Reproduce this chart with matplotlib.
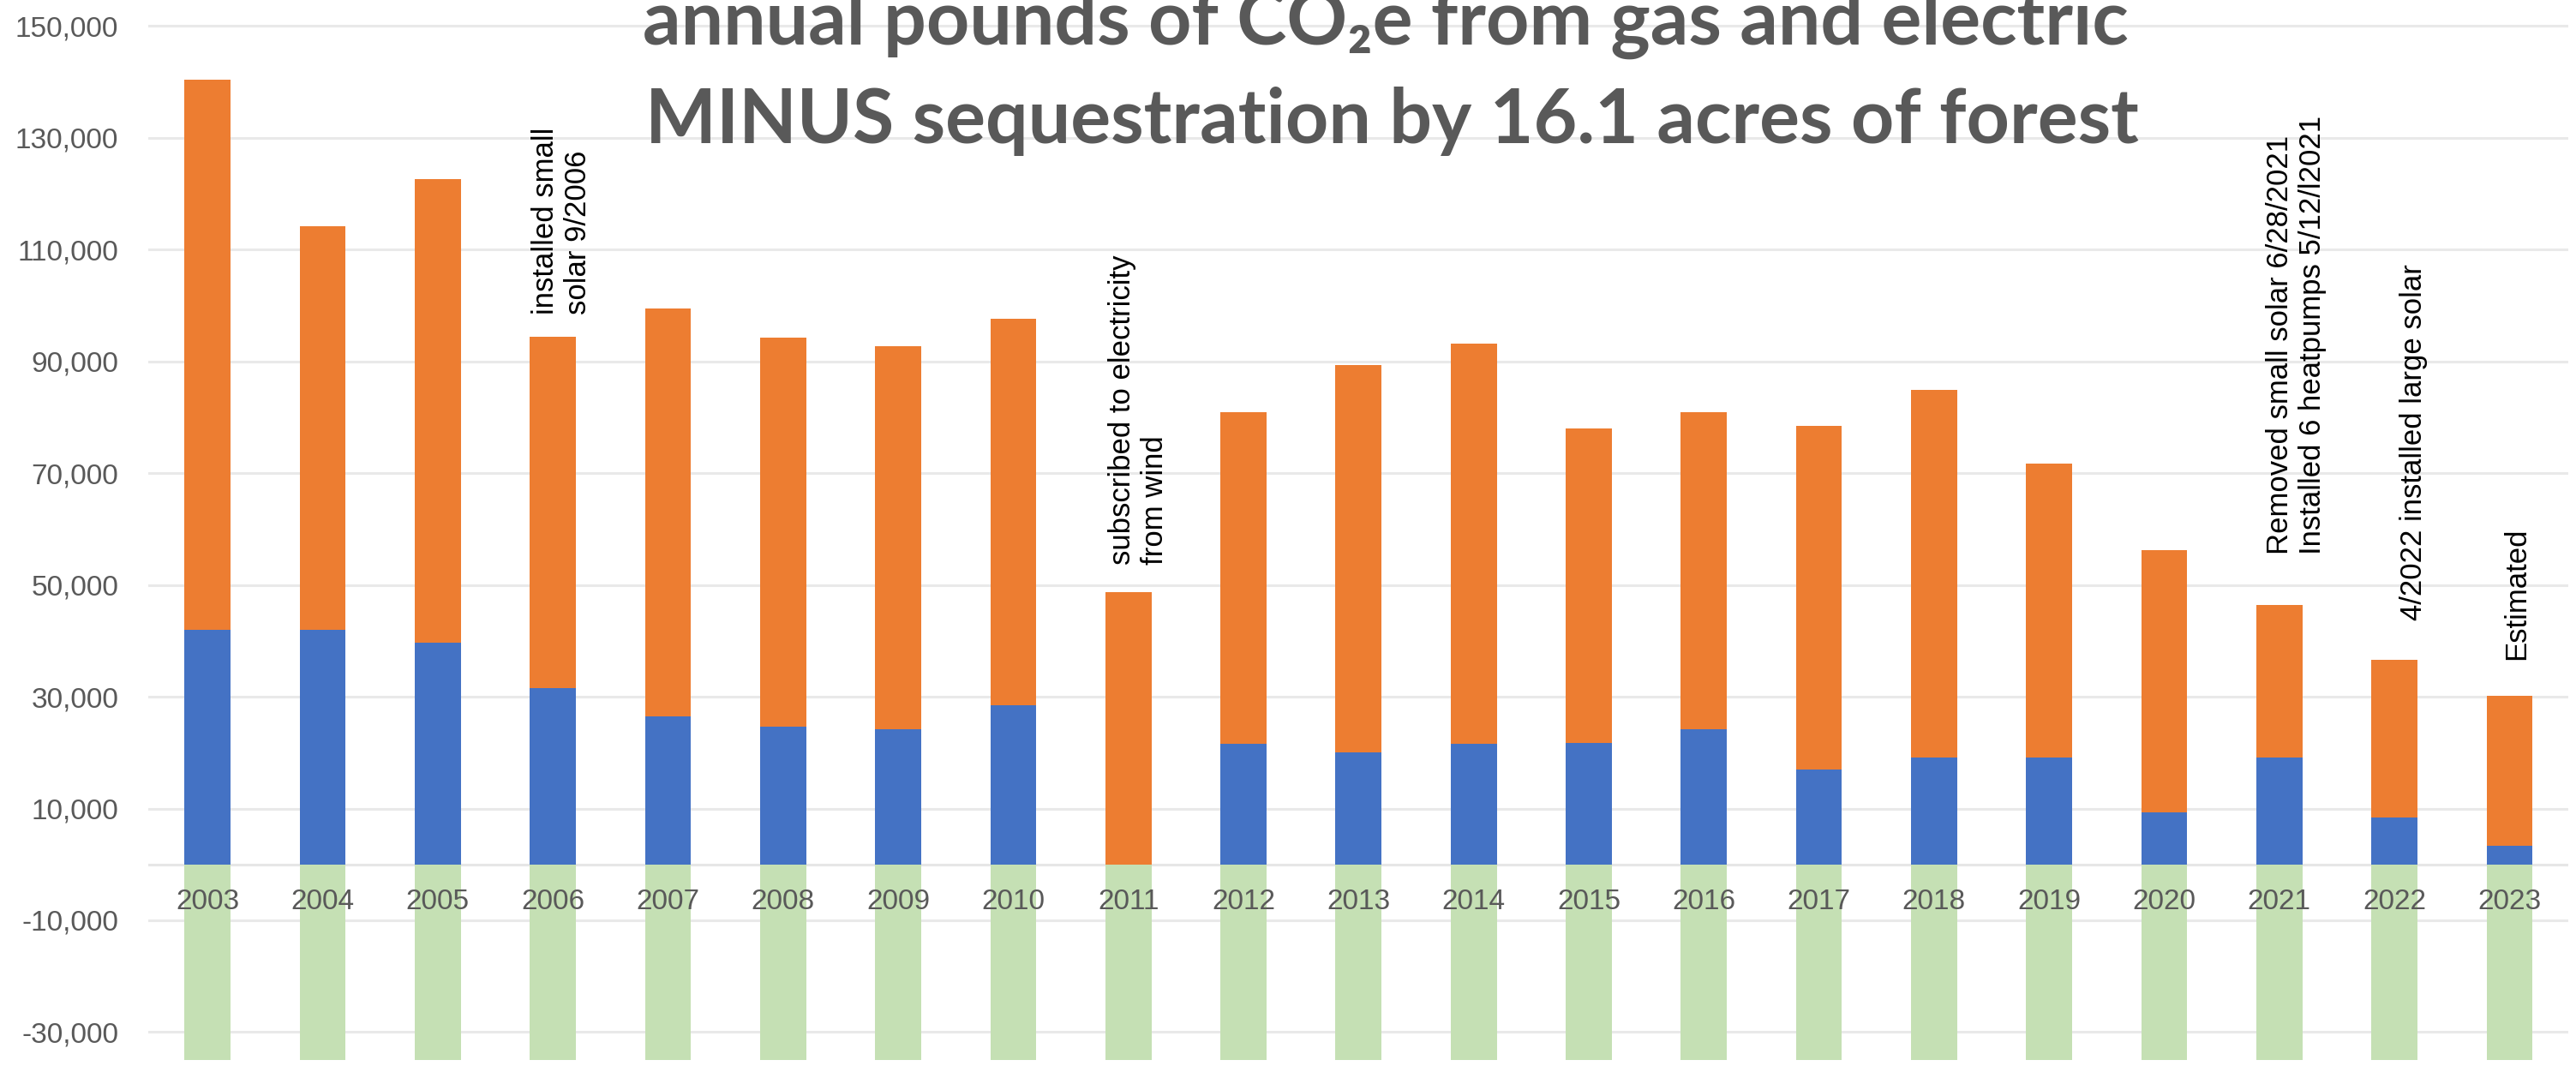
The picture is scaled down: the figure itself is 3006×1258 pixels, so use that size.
import matplotlib.pyplot as plt
from matplotlib.ticker import FuncFormatter

years = [2003, 2004, 2005, 2006, 2007, 2008, 2009, 2010, 2011, 2012, 2013,
         2014, 2015, 2016, 2017, 2018, 2019, 2020, 2021, 2022, 2023]
electric = [42000, 42000, 39700, 31500, 26500, 24700, 24100, 28500, 0, 21500, 20000,
            21500, 21800, 24100, 17000, 19100, 19100, 9300, 19100, 8400, 3400]
gas = [98300, 72200, 82900, 62900, 73000, 69500, 68600, 69100, 48700, 59400, 69300,
       71700, 56200, 56800, 61500, 65700, 52600, 46900, 27300, 28200, 26800]
forest = [-35000, -35000, -35000, -35000, -35000, -35000, -35000, -35000, -35000, -35000, -35000,
          -35000, -35000, -35000, -35000, -35000, -35000, -35000, -35000, -35000, -35000]
y_ticks = [-30000, -10000, 10000, 30000, 50000, 70000, 90000, 110000, 130000, 150000]

note_years = [2006, 2011, 2021, 2022, 2023]
note_texts = ["installed small\nsolar 9/2006",
              "subscribed to electricity\nfrom wind",
              "Removed small solar 6/28/2021\nInstalled 6 heatpumps 5/12/l2021",
              "4/2022 installed large solar",
              "Estimated"]
# pixel offsets (dx, gap above bar) for each note
note_offsets = [(10, 26), (12, 32), (20, 59), (22, 46), (8, 42)]

plt.rcParams['font.family'] = ['Liberation Sans', 'DejaVu Sans']

fig = plt.figure(figsize=(30.06, 12.58), dpi=100)
ax = fig.add_axes([173 / 3006, 0, 2824 / 3006, 1])

x = list(range(len(years)))
w = 0.40
ax.bar(x, electric, w, color='#4472C4', zorder=1)
ax.bar(x, gas, w, bottom=electric, color='#ED7D31', zorder=1)
ax.bar(x, forest, w, color='#C5E0B4', zorder=1)

ax.set_xlim(-0.515, 20.51)
ax.set_ylim(-38200, 154600)

for v in y_ticks:
    ax.axhline(v, color='#E9E9E9', lw=2.2, zorder=0)
ax.axhline(0, color='#E6E6E6', lw=2.2, zorder=0.5)

ax.set_yticks(y_ticks)
ax.yaxis.set_major_formatter(FuncFormatter(lambda v, p: f"{int(v):,}"))
ax.tick_params(axis='y', length=0, pad=25, labelsize=24, labelcolor='#595959')

ax.set_xticks(x)
ax.set_xticklabels([str(y) for y in years])
ax.spines['bottom'].set_position(('data', 0))
ax.tick_params(axis='x', length=0, pad=20, labelsize=24, labelcolor='#595959')
ax.xaxis.set_zorder(3)
for s in ax.spines.values():
    s.set_visible(False)

totals = [e + g for e, g in zip(electric, gas)]
for yr, txt, (dx, gap) in zip(note_years, note_texts, note_offsets):
    i = years.index(yr)
    ax.annotate(txt, (i, totals[i]), xytext=(dx, gap), textcoords='offset pixels',
                rotation=90, ha='center', va='bottom', multialignment='left',
                fontsize=25, color='black', zorder=5)

title_font = ['Lato', 'DejaVu Sans']
t1 = fig.text(1617 / 3006, 1 - 52 / 1258, "annual pounds of CO\u2082e from gas and electric",
              ha='center', va='baseline', fontsize=60, fontweight='bold',
              color='#595959', family=title_font)
t2 = fig.text(1624 / 3006, 1 - 167 / 1258, "MINUS sequestration by 16.1 acres of forest",
              ha='center', va='baseline', fontsize=60, fontweight='bold',
              color='#595959', family=title_font)
fig.canvas.draw()
scale = 1742 / t2.get_window_extent().width
t1.set_fontsize(60 * scale)
t2.set_fontsize(60 * scale)

fig.savefig('out.png', dpi=100)
